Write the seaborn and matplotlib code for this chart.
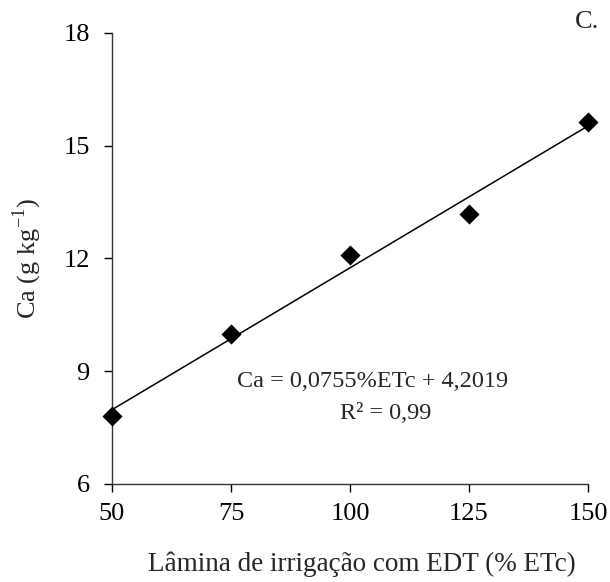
import matplotlib
matplotlib.use("Agg")
import matplotlib.pyplot as plt
import seaborn as sns
import numpy as np
import pandas as pd

# Irrigation depth (% ETc) and measured calcium content (g/kg)
lamina = [50, 75, 100, 125, 150]
calcio = [7.8, 10.0, 12.08, 13.19, 15.63]

# Fitted linear model reported on the chart
slope = 0.0755
intercept = 4.2019
r2_text = "0,99"

x_ticks = [50, 75, 100, 125, 150]
y_ticks = [6, 9, 12, 15, 18]

sns.set_theme(style="ticks")
plt.rcParams["font.family"] = ["Liberation Serif", "DejaVu Serif"]
plt.rcParams["mathtext.fontset"] = "custom"
plt.rcParams["mathtext.rm"] = "Liberation Serif"

fig = plt.figure(figsize=(6.10, 5.82), dpi=100)
ax = fig.add_axes([0.1836, 0.1684, 0.9639 - 0.1836, 0.9433 - 0.1684])

pts = pd.DataFrame({"x": lamina, "y": calcio})
fit_x = np.array([min(lamina), max(lamina)])
fit = pd.DataFrame({"x": fit_x, "y": slope * fit_x + intercept})

sns.lineplot(data=fit, x="x", y="y", ax=ax, color="black", linewidth=1.1)
sns.scatterplot(data=pts, x="x", y="y", ax=ax, marker="D", s=105,
                color="black", linewidth=0, zorder=3, clip_on=False)

ax.set_xlim(50, 150)
ax.set_ylim(6, 18)
ax.set_xticks(x_ticks)
ax.set_yticks(y_ticks)
ax.tick_params(labelsize=19, length=6, width=1.0, colors="black")
ax.tick_params(axis="y", pad=10)
ax.tick_params(axis="x", pad=8)
for side in ("top", "right"):
    ax.spines[side].set_visible(False)
for side in ("left", "bottom"):
    ax.spines[side].set_linewidth(1.0)
    ax.spines[side].set_color("#333333")

ax.set_xlabel("Lâmina de irrigação com EDT (% ETc)", fontsize=19.5, va="center")
ax.xaxis.set_label_coords(0.525, -0.178)
ax.set_ylabel("Ca (g kg$^{-1}$)", fontsize=19, labelpad=14)

ax.text(104.8, 8.73, f"Ca = {str(slope).replace('.', ',')}%ETc + {str(intercept).replace('.', ',')}",
        fontsize=17.5, ha="center", va="center")
ax.text(107.6, 7.88, f"R² = {r2_text}", fontsize=17.5, ha="center", va="center")

fig.text(0.963, 0.962, "C.", fontsize=19, ha="center", va="center")

fig.savefig("out.png", dpi=100)
